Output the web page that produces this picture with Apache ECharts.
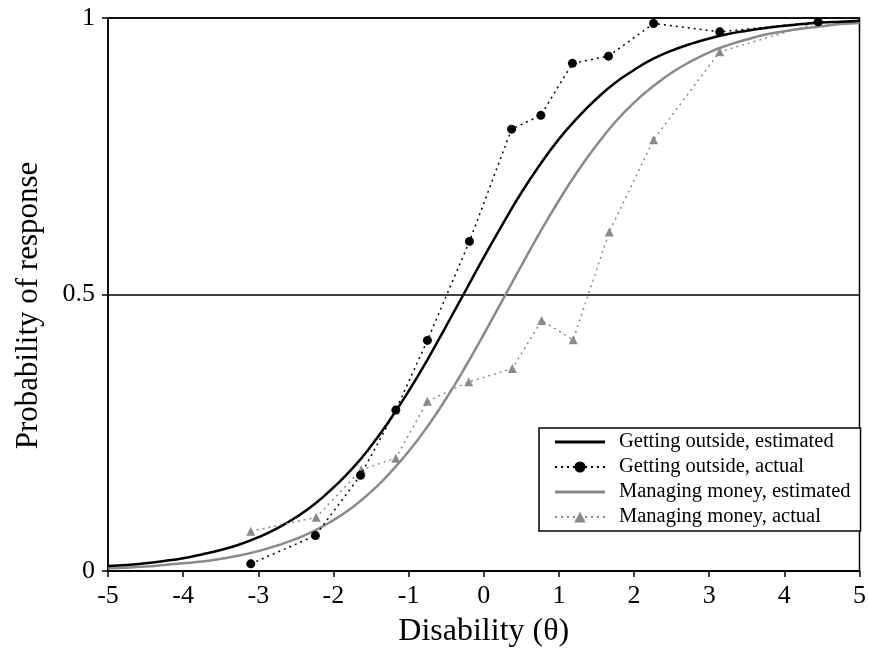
<!DOCTYPE html>
<html>
<head>
<meta charset="utf-8">
<script src="https://cdn.jsdelivr.net/npm/echarts@6/dist/echarts.min.js"></script>
<style>html,body{margin:0;padding:0;background:#fff;}#c{width:869px;height:653px;}</style>
</head>
<body>
<div id="c"></div>
<script>
// Estimated curves
var thetaGrid = [-5,-4.75,-4.5,-4.25,-4,-3.75,-3.5,-3.25,-3,-2.75,-2.5,-2.25,-2,-1.75,-1.5,-1.25,-1,-0.75,-0.5,-0.25,0,0.25,0.5,0.75,1,1.25,1.5,1.75,2,2.25,2.5,2.75,3,3.25,3.5,3.75,4,4.25,4.5,4.75,5];
var goEstimated = [0.009,0.011,0.014,0.018,0.023,0.030,0.038,0.048,0.061,0.077,0.097,0.121,0.151,0.185,0.226,0.273,0.325,0.382,0.443,0.505,0.567,0.627,0.684,0.735,0.781,0.820,0.854,0.883,0.906,0.926,0.941,0.953,0.963,0.971,0.977,0.982,0.986,0.989,0.992,0.993,0.995];
var mmEstimated = [0.005,0.006,0.008,0.011,0.014,0.017,0.022,0.028,0.036,0.046,0.058,0.073,0.092,0.115,0.143,0.177,0.216,0.261,0.312,0.368,0.428,0.490,0.552,0.613,0.670,0.723,0.770,0.812,0.847,0.876,0.901,0.921,0.938,0.951,0.961,0.970,0.976,0.981,0.985,0.989,0.991];

// Actual points
var goTheta = [-3.10,-2.24,-1.64,-1.17,-0.75,-0.19,0.37,0.76,1.18,1.66,2.26,3.14,4.45];
var goActual = [0.013,0.064,0.173,0.291,0.417,0.596,0.799,0.824,0.918,0.931,0.990,0.975,0.993];
var mmTheta = [-3.10,-2.23,-1.63,-1.17,-0.75,-0.20,0.38,0.77,1.19,1.67,2.26,3.14,4.46];
var mmActual = [0.072,0.097,0.183,0.204,0.307,0.342,0.366,0.453,0.418,0.613,0.780,0.939,0.992];

var xTicks = [-5,-4,-3,-2,-1,0,1,2,3,4,5];
var yTicks = [0,0.5,1];

var names = ['Getting outside, estimated','Getting outside, actual','Managing money, estimated','Managing money, actual'];

function pairs(xs, ys){ return xs.map(function(x,i){ return [x, ys[i]]; }); }

var FONT = 'Liberation Serif';
var LINE_ICON = 'path://M0,0 L50,0 L50,3 L0,3 Z';
var chart = echarts.init(document.getElementById('c'), null, {renderer:'canvas'});
chart.setOption({
  animation: false,
  backgroundColor: '#fff',
  grid: {left:108, right:8, top:18, bottom:81, show:true, borderColor:'#000', borderWidth:1.5},
  legend: {
    data: [
      {name:names[0], icon:LINE_ICON},
      {name:names[1]},
      {name:names[2], icon:LINE_ICON},
      {name:names[3]}
    ],
    orient: 'vertical',
    left: 539, top: 428,
    padding: [3,10,3,15],
    itemWidth: 50, itemHeight: 14, itemGap: 3,
    backgroundColor: '#fff', borderColor: '#000', borderWidth: 1.5, borderRadius: 0,
    textStyle: {fontFamily: FONT, fontSize: 20.5, color: '#000', lineHeight: 22, padding:[0,0,0,9]},
    selectedMode: false
  },
  xAxis: {
    type:'value', min:-5, max:5, interval:1,
    name:'Disability (θ)', nameLocation:'middle', nameGap:45,
    nameTextStyle:{fontFamily:FONT, fontSize:32, color:'#000'},
    axisLine:{show:true, onZero:false, lineStyle:{color:'#000', width:1.5}},
    axisTick:{show:true, inside:false, length:6, lineStyle:{color:'#000', width:1.5}},
    axisLabel:{fontFamily:FONT, fontSize:26, color:'#000', margin:12,
      formatter:function(v){ return xTicks.indexOf(v)>=0 ? String(v) : ''; }},
    splitLine:{show:false}
  },
  yAxis: {
    type:'value', min:0, max:1, interval:0.5,
    name:'Probability of response', nameLocation:'middle', nameGap:64,
    nameTextStyle:{fontFamily:FONT, fontSize:31, color:'#000', padding:[0,22,0,0]},
    axisLine:{show:true, onZero:false, lineStyle:{color:'#000', width:1.5}},
    axisTick:{show:true, length:6, lineStyle:{color:'#000', width:1.5}},
    axisLabel:{fontFamily:FONT, fontSize:26, color:'#000', margin:13,
      formatter:function(v){ return yTicks.indexOf(v)>=0 ? String(v) : ''; }},
    splitLine:{show:true, lineStyle:{color:'#000', width:1.5}}
  },
  series: [
    {name:names[0], type:'line', data:pairs(thetaGrid, goEstimated), smooth:true, showSymbol:false, symbol:'none',
      lineStyle:{color:'#000', width:2.5}, itemStyle:{color:'#000'}, z:3},
    {name:names[1], type:'line', data:pairs(goTheta, goActual), symbol:'circle', symbolSize:9,
      lineStyle:{color:'#000', width:1.5, type:[2,4]}, itemStyle:{color:'#000'}, z:4},
    {name:names[2], type:'line', data:pairs(thetaGrid, mmEstimated), smooth:true, showSymbol:false, symbol:'none',
      lineStyle:{color:'#8a8a8a', width:2.5}, itemStyle:{color:'#8a8a8a'}, z:2},
    {name:names[3], type:'line', data:pairs(mmTheta, mmActual), symbol:'triangle', symbolSize:9,
      lineStyle:{color:'#8a8a8a', width:1.5, type:[2,4]}, itemStyle:{color:'#8a8a8a'}, z:3}
  ]
});
</script>
</body>
</html>
